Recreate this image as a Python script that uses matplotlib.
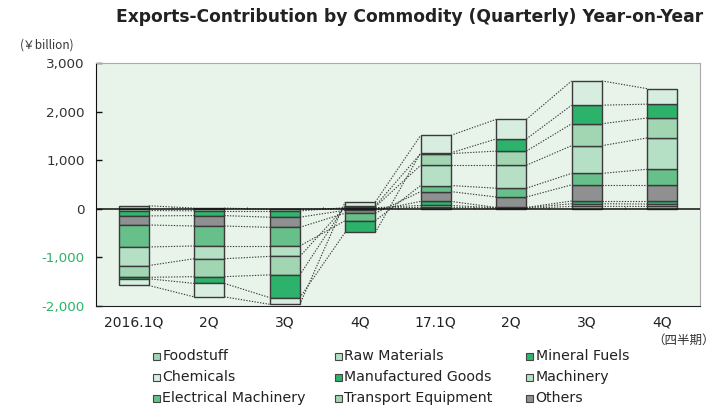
import matplotlib
matplotlib.use("Agg")
import matplotlib.pyplot as plt
from matplotlib.patches import Rectangle
import numpy as np

categories = ["2016.1Q", "2Q", "3Q", "4Q", "17.1Q", "2Q", "3Q", "4Q"]

# stacking order bottom -> top
foodstuff    = [62, 15, -10, 10, 30, 10, 50, 48]
raw_mat      = [-35, -42, -32, 12, 39, 10, 54, 50]
mineral      = [-111, -98, -131, -30, 83, 8, 56, 62]
others       = [-187, -214, -208, -60, 202, 215, 333, 333]
electrical   = [-452, -411, -384, -154, 125, 181, 236, 320]
machinery    = [-382, -262, -214, 20, 417, 472, 570, 645]
transport    = [-243, -369, -381, 20, 240, 291, 451, 410]
manufactured = [-30, -139, -467, -241, 15, 250, 382, 285]
chemicals    = [-138, -277, -138, 78, 360, 403, 500, 319]

series = [
    ("Foodstuff", foodstuff, "#a0d4b0"),
    ("Raw Materials", raw_mat, "#b4dfc3"),
    ("Mineral Fuels", mineral, "#30b66c"),
    ("Others", others, "#8e9091"),
    ("Electrical Machinery", electrical, "#67c08a"),
    ("Machinery", machinery, "#b5e0c6"),
    ("Transport Equipment", transport, "#a2d6b2"),
    ("Manufactured Goods", manufactured, "#2cb26a"),
    ("Chemicals", chemicals, "#d7ede0"),
]
legend_order = ["Foodstuff", "Raw Materials", "Mineral Fuels",
                "Chemicals", "Manufactured Goods", "Machinery",
                "Electrical Machinery", "Transport Equipment", "Others"]

W, H = 727, 411
fig = plt.figure(figsize=(W / 100, H / 100), dpi=100)
ax = fig.add_axes([96 / W, 1 - 306 / H, (700 - 96) / W, (306 - 63) / H])
ax.set_facecolor("#e8f3ea")

x = np.arange(len(categories))
bw = 0.4
pos_b = np.zeros(len(x))
neg_b = np.zeros(len(x))
ends = {}
for name, vals, col in series:
    v = np.array(vals, dtype=float)
    bottom = np.where(v >= 0, pos_b, neg_b)
    ax.bar(x, v, bw, bottom=bottom, color=col, edgecolor="#3a3a3a",
           linewidth=1.0, zorder=3)
    end = bottom + v
    ends[name] = end
    pos_b = np.where(v >= 0, pos_b + v, pos_b)
    neg_b = np.where(v < 0, neg_b + v, neg_b)

for name, vals, col in series:
    e = ends[name]
    for i in range(len(x) - 1):
        ax.plot([x[i] + bw / 2, x[i + 1] - bw / 2], [e[i], e[i + 1]],
                color="#3a3a3a", lw=0.8, ls=(0, (1.2, 1.3)), zorder=2)

ax.axhline(0, color="#111111", lw=1.1, zorder=4)
ax.set_xlim(-0.5, len(x) - 0.5)
ax.set_ylim(-2000, 3000)
ax.set_yticks([-2000, -1000, 0, 1000, 2000, 3000])
ylabels = ax.set_yticklabels(["-2,000", "-1,000", "0", "1,000", "2,000", "3,000"],
                             fontsize=9.7)
for t in ylabels:
    t.set_color("#2db36a" if t.get_text().startswith("-") else "#333333")
ax.tick_params(axis="y", direction="in", length=4, width=1, color="#111111", pad=8)
ax.set_xticks(x)
ax.set_xticklabels(categories, fontsize=10, color="#222222")
ax.tick_params(axis="x", length=0, pad=7)
# small boundary ticks on zero line
for b in x[:-1] + 0.5:
    ax.plot([b, b], [0, 45], color="#999999", lw=0.8, zorder=1)

ax.spines["left"].set_color("#111111")
ax.spines["bottom"].set_color("#222222")
ax.spines["top"].set_color("#aaaaaa")
ax.spines["right"].set_color("#aaaaaa")

fig.text(410 / W, 1 - 17 / H, "Exports-Contribution by Commodity (Quarterly) Year-on-Year",
         ha="center", va="center", fontsize=12.3, fontweight="bold", color="#222222")
fig.text(20 / W, 1 - 45 / H, "(￥billion)", ha="left", va="center", fontsize=8.5,
         color="#333333", family=["Noto Sans CJK JP", "DejaVu Sans"])
fig.text(684 / W, 1 - 340 / H, "（四半期）", ha="center", va="center", fontsize=9,
         color="#333333", family=["Noto Sans CJK JP", "DejaVu Sans"])

colors = {n: c for n, _, c in series}
col_x = [153, 335, 526]
row_y = [356, 377, 398]
for k, name in enumerate(legend_order):
    r, c = divmod(k, 3)
    mx, my = col_x[c], row_y[r]
    fig.patches.append(Rectangle((mx / W, 1 - (my + 3.5) / H), 7 / W, 7 / H,
                                 transform=fig.transFigure, facecolor=colors[name],
                                 edgecolor="#444444", lw=0.8))
    fig.text((mx + 9.5) / W, 1 - my / H, name, ha="left", va="center",
             fontsize=10.2, color="#222222")

fig.savefig("out.png", dpi=100)
